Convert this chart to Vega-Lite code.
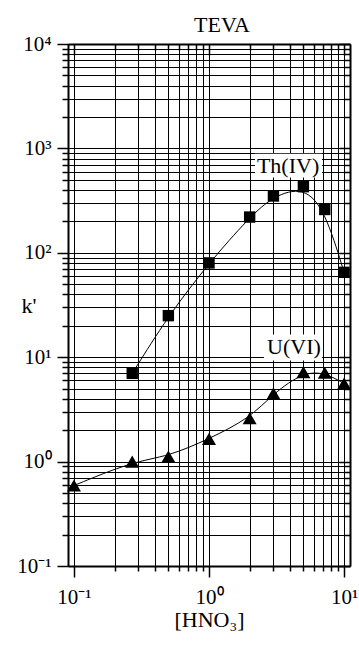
{
  "$schema": "https://vega.github.io/schema/vega-lite/v6.json",
  "width": 282,
  "height": 522,
  "autosize": {"type": "none"},
  "padding": {"left": 68, "top": 44, "right": 9, "bottom": 79},
  "background": "white",
  "title": {"text": "TEVA", "font": "Liberation Serif", "fontSize": 22, "fontWeight": "normal", "color": "black", "anchor": "middle", "frame": "group", "dx": 13, "dy": 32, "offset": 11, "baseline": "alphabetic"},
  "datasets": {
    "th": [
      {"hno3": 0.27, "k": 7.0},
      {"hno3": 0.5, "k": 25},
      {"hno3": 1, "k": 80},
      {"hno3": 2, "k": 220},
      {"hno3": 3, "k": 350},
      {"hno3": 5, "k": 430},
      {"hno3": 7.2, "k": 260},
      {"hno3": 10, "k": 65}
    ],
    "u": [
      {"hno3": 0.1, "k": 0.59},
      {"hno3": 0.27, "k": 1.0},
      {"hno3": 0.5, "k": 1.12},
      {"hno3": 1, "k": 1.65},
      {"hno3": 2, "k": 2.6},
      {"hno3": 3, "k": 4.5},
      {"hno3": 5, "k": 7.2},
      {"hno3": 7.2, "k": 7.1},
      {"hno3": 10, "k": 5.6}
    ],
    "boxes": [
      {"x1": 2.19, "x2": 6.87, "y1": 891, "y2": 525},
      {"x1": 2.55, "x2": 6.87, "y1": 16.5, "y2": 9.28}
    ],
    "labels": [
      {"hno3": 3.85, "k": 684, "name": "Th(IV)"},
      {"hno3": 4.26, "k": 12.4, "name": "U(VI)"}
    ]
  },
  "layer": [
    {
      "data": {"name": "th"},
      "mark": {"type": "line", "interpolate": "basis", "color": "black", "strokeWidth": 1},
      "encoding": {
        "x": {"field": "hno3", "type": "quantitative", "scale": {"type": "log", "domain": [0.0903, 11.07], "nice": false},
          "axis": {"orient": "bottom", "values": [0.1,0.2,0.3,0.4,0.5,0.6,0.7,0.8,0.9,1,2,3,4,5,6,7,8,9,10],
            "grid": true, "gridColor": "#000", "gridWidth": 1, "gridOpacity": 1,
            "domainColor": "#000", "domainWidth": 2, "tickColor": "#000", "tickWidth": 1.5,
            "tickSize": {"condition": {"test": "indexof([0.1,1,10], datum.value) >= 0", "value": 11}, "value": 5},
            "labelExpr": "datum.value == 0.1 ? '10⁻¹' : datum.value == 1 ? '10⁰' : datum.value == 10 ? '10¹' : ''",
            "labelFont": "Liberation Serif", "labelFontSize": 21, "labelColor": "#000", "labelPadding": 9,
            "labelFlush": false, "labelOverlap": false, "labelBound": false,
            "title": "[HNO₃]", "titleFont": "Liberation Serif", "titleFontSize": 22, "titleFontWeight": "normal", "titleColor": "#000", "titlePadding": 2}},
        "y": {"field": "k", "type": "quantitative", "scale": {"type": "log", "domain": [0.1, 10000], "nice": false},
          "axis": {"orient": "left", "values": [0.1,0.2,0.3,0.4,0.5,0.6,0.7,0.8,0.9,1,2,3,4,5,6,7,8,9,10,20,30,40,50,60,70,80,90,100,200,300,400,500,600,700,800,900,1000,2000,3000,4000,5000,6000,7000,8000,9000,10000],
            "grid": true, "gridColor": "#000", "gridWidth": 1, "gridOpacity": 1,
            "domainColor": "#000", "domainWidth": 2, "tickColor": "#000", "tickWidth": 1.5,
            "tickSize": {"condition": {"test": "indexof([0.1,1,10,100,1000,10000], datum.value) >= 0", "value": 11}, "value": 6},
            "labelExpr": "datum.value == 0.1 ? '10⁻¹' : datum.value == 1 ? '10⁰' : datum.value == 10 ? '10¹' : datum.value == 100 ? '10²' : datum.value == 1000 ? '10³' : datum.value == 10000 ? '10⁴' : ''",
            "labelFont": "Liberation Serif", "labelFontSize": 21, "labelColor": "#000", "labelPadding": 6,
            "labelFlush": false, "labelOverlap": false, "labelBound": false, "labelBaseline": "middle",
            "title": "k'", "titleFont": "Liberation Serif", "titleFontSize": 22, "titleFontWeight": "normal", "titleColor": "#000",
            "titleAngle": 0, "titleAlign": "left", "titleBaseline": "middle", "titleX": -47, "titleY": 261}}
      }
    },
    {
      "data": {"name": "u"},
      "mark": {"type": "line", "interpolate": "basis", "color": "black", "strokeWidth": 1},
      "encoding": {
        "x": {"field": "hno3", "type": "quantitative", "scale": {"type": "log", "domain": [0.0903, 11.07], "nice": false},
          "axis": {"orient": "top", "values": [0.1,0.2,0.3,0.4,0.5,0.6,0.7,0.8,0.9,1,2,3,4,5,6,7,8,9,10],
            "grid": false, "labels": false, "title": null,
            "domainColor": "#000", "domainWidth": 2, "tickColor": "#000", "tickWidth": 1.5,
            "tickSize": {"condition": {"test": "indexof([0.1,1,10], datum.value) >= 0", "value": -11}, "value": -6}}},
        "y": {"field": "k", "type": "quantitative", "scale": {"type": "log", "domain": [0.1, 10000], "nice": false},
          "axis": {"orient": "right", "values": [0.1,0.2,0.3,0.4,0.5,0.6,0.7,0.8,0.9,1,2,3,4,5,6,7,8,9,10,20,30,40,50,60,70,80,90,100,200,300,400,500,600,700,800,900,1000,2000,3000,4000,5000,6000,7000,8000,9000,10000],
            "grid": false, "labels": false, "title": null,
            "domainColor": "#000", "domainWidth": 2, "tickColor": "#000", "tickWidth": 1.5,
            "tickSize": {"condition": {"test": "indexof([0.1,1,10,100,1000,10000], datum.value) >= 0", "value": -11}, "value": -6}}}
      }
    },
    {
      "data": {"name": "th"},
      "mark": {"type": "point", "shape": "square", "filled": true, "size": 130, "color": "black", "opacity": 1},
      "encoding": {
        "x": {"field": "hno3", "type": "quantitative", "scale": {"type": "log", "domain": [0.0903, 11.07], "nice": false}, "axis": null},
        "y": {"field": "k", "type": "quantitative", "scale": {"type": "log", "domain": [0.1, 10000], "nice": false}, "axis": null}
      }
    },
    {
      "data": {"name": "u"},
      "mark": {"type": "point", "shape": "triangle-up", "filled": true, "size": 196, "color": "black", "opacity": 1},
      "encoding": {
        "x": {"field": "hno3", "type": "quantitative", "scale": {"type": "log", "domain": [0.0903, 11.07], "nice": false}, "axis": null},
        "y": {"field": "k", "type": "quantitative", "scale": {"type": "log", "domain": [0.1, 10000], "nice": false}, "axis": null}
      }
    },
    {
      "data": {"name": "boxes"},
      "mark": {"type": "rect", "color": "white"},
      "encoding": {
        "x": {"field": "x1", "type": "quantitative", "scale": {"type": "log", "domain": [0.0903, 11.07], "nice": false}, "axis": null},
        "x2": {"field": "x2"},
        "y": {"field": "y1", "type": "quantitative", "scale": {"type": "log", "domain": [0.1, 10000], "nice": false}, "axis": null},
        "y2": {"field": "y2"}
      }
    },
    {
      "data": {"name": "labels"},
      "mark": {"type": "text", "font": "Liberation Serif", "fontSize": 22, "align": "center", "baseline": "middle", "color": "black"},
      "encoding": {
        "x": {"field": "hno3", "type": "quantitative", "scale": {"type": "log", "domain": [0.0903, 11.07], "nice": false}, "axis": null},
        "y": {"field": "k", "type": "quantitative", "scale": {"type": "log", "domain": [0.1, 10000], "nice": false}, "axis": null},
        "text": {"field": "name", "type": "nominal"}
      }
    }
  ],
  "resolve": {"axis": {"x": "independent", "y": "independent"}},
  "config": {"view": {"stroke": null}}
}
